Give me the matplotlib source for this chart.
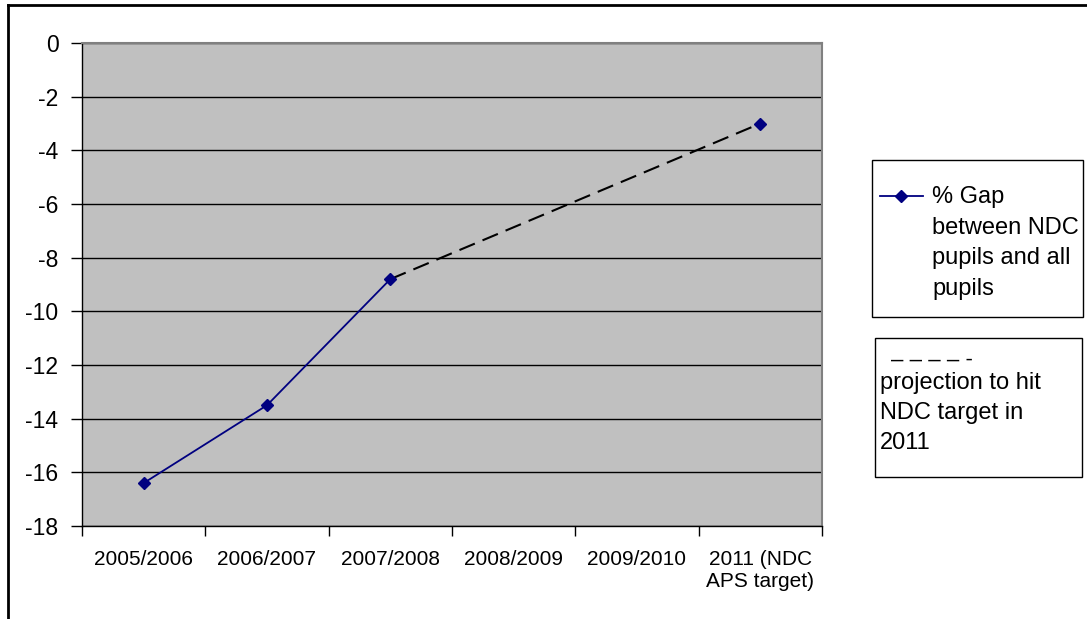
import numpy as np
import matplotlib
matplotlib.use("Agg")
import matplotlib.pyplot as plt
from matplotlib.lines import Line2D
from matplotlib.patches import Rectangle

plt.rcParams["font.family"] = ["Liberation Sans", "DejaVu Sans"]

# NDC attainment gap by school year
years = ["2005/2006", "2006/2007", "2007/2008", "2008/2009", "2009/2010",
         "2011 (NDC\nAPS target)"]
gap = [-16.4, -13.5, -8.8, np.nan, np.nan, -3.0]
proj_idx = [2, 5]
proj_vals = [-8.8, -3.0]

W, H = 1087, 619
fig = plt.figure(figsize=(W / 100, H / 100), dpi=100)


def fx(px):
    return px / W


def fy(py):
    return 1 - py / H


ax = fig.add_axes([fx(82), fy(526), fx(822) - fx(82), fy(43) - fy(526)])
ax.set_facecolor("#C0C0C0")

x = np.arange(len(years))
ax.plot(proj_idx, proj_vals, color="black", lw=1.5, ls=(0, (8, 4)), zorder=3)
ax.plot(x, gap, color="#000080", lw=1.3, marker="D", ms=6.5,
        markerfacecolor="#000080", zorder=4)

ax.set_xlim(-0.5, len(years) - 0.5)
ax.set_ylim(-18, 0)
ax.set_yticks(np.arange(-18, 1, 2))
ax.set_yticklabels([str(v) for v in range(-18, 1, 2)], fontsize=16.5)
ax.set_xticks(x)
ax.set_xticklabels(years, fontsize=15, linespacing=1.25)
ax.set_xticks(np.arange(-0.5, len(years), 1), minor=True)
ax.tick_params(axis="x", which="major", length=0, pad=17)
ax.tick_params(axis="x", which="minor", length=7, width=1, direction="out")
ax.tick_params(axis="y", length=8, width=1, direction="out", pad=9)

ax.grid(axis="y", color="black", lw=1)
ax.set_axisbelow(True)
for side in ("top", "right"):
    ax.spines[side].set_color("#808080")
    ax.spines[side].set_linewidth(1.5)
for side in ("left", "bottom"):
    ax.spines[side].set_color("black")
    ax.spines[side].set_linewidth(1)

# outer chart frame (top and left edges)
fig.add_artist(Line2D([fx(8), 1], [fy(5), fy(5)], color="black", lw=2,
                      transform=fig.transFigure))
fig.add_artist(Line2D([fx(8), fx(8)], [0, fy(5)], color="black", lw=2,
                      transform=fig.transFigure))

# legend box for the measured series
fig.add_artist(Rectangle((fx(872), fy(317)), fx(1083) - fx(872),
                         fy(160) - fy(317), fill=False, ec="black", lw=1,
                         transform=fig.transFigure))
fig.add_artist(Line2D([fx(880), fx(901), fx(923)], [fy(196)] * 3,
                      color="#000080", lw=1.3, marker="D", ms=6.5,
                      markevery=[1], transform=fig.transFigure))
fig.text(fx(932), fy(186), "% Gap\nbetween NDC\npupils and all\npupils",
         fontsize=17, va="top", ha="left", linespacing=1.5)

# legend box for the projection
fig.add_artist(Rectangle((fx(875), fy(477)), fx(1082) - fx(875),
                         fy(338) - fy(477), fill=False, ec="black", lw=1,
                         transform=fig.transFigure))
fig.text(fx(891), fy(360), "\u2013 \u2013 \u2013 \u2013 -", fontsize=16,
         va="center", ha="left")
fig.text(fx(880), fy(372), "projection to hit\nNDC target in\n2011",
         fontsize=17, va="top", ha="left", linespacing=1.48)

fig.savefig("out.png", dpi=100)
